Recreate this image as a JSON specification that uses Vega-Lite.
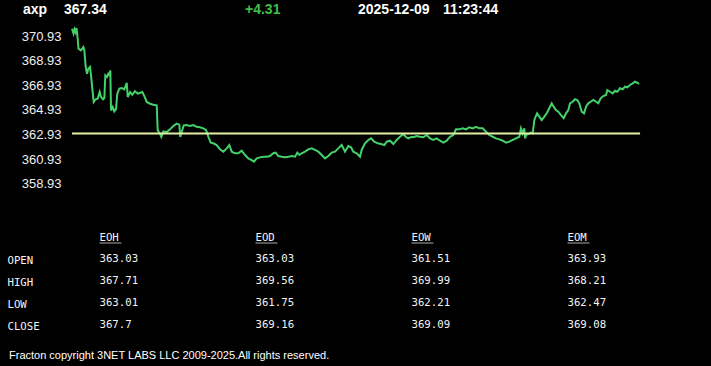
{
  "$schema": "https://vega.github.io/schema/vega-lite/v6.json",
  "width": 711,
  "height": 366,
  "padding": 0,
  "autosize": "none",
  "background": "#000000",
  "config": {"view": {"stroke": null}, "font": "Liberation Sans"},
  "datasets": {
    "price": [
      {"m":0,"v":371.52},{"m":0.3,"v":371.12},{"m":0.5,"v":371.47},{"m":0.7,"v":371.25},{"m":0.9,"v":371.58},{"m":1.1,"v":370.85},{"m":1.3,"v":369.9},{"m":1.8,"v":369.77},{"m":2.27,"v":370.04},{"m":2.47,"v":369.77},
      {"m":2.75,"v":368.42},{"m":3.01,"v":367.87},{"m":3.27,"v":368.28},{"m":3.61,"v":368.42},{"m":3.81,"v":367.74},{"m":4.07,"v":366.66},{"m":4.35,"v":365.58},{"m":4.75,"v":365.8},{"m":5.15,"v":365.85},{"m":5.55,"v":366.39},
      {"m":5.81,"v":365.98},{"m":6.22,"v":365.8},{"m":6.48,"v":365.9},{"m":6.68,"v":367.74},{"m":7.02,"v":367.61},{"m":7.28,"v":367.87},{"m":7.56,"v":367.74},{"m":7.68,"v":368.15},{"m":7.82,"v":364.9},{"m":8.16,"v":365.17},
      {"m":8.48,"v":364.82},{"m":8.82,"v":365.0},{"m":9.08,"v":366.25},{"m":9.48,"v":366.66},{"m":9.96,"v":366.71},{"m":10.49,"v":366.61},{"m":10.97,"v":367.14},{"m":11.17,"v":365.98},{"m":11.63,"v":366.39},{"m":12.09,"v":366.17},
      {"m":12.63,"v":366.45},{"m":13.17,"v":366.25},{"m":13.69,"v":366.33},{"m":14.1,"v":366.39},{"m":14.5,"v":366.06},{"m":14.98,"v":365.58},{"m":15.64,"v":365.44},{"m":16.3,"v":365.36},{"m":16.98,"v":365.31},{"m":17.18,"v":363.28},
      {"m":17.64,"v":363.01},{"m":17.9,"v":362.74},{"m":18.31,"v":363.2},{"m":18.99,"v":363.14},{"m":19.65,"v":363.36},{"m":20.31,"v":363.63},{"m":20.99,"v":363.82},{"m":21.51,"v":363.74},{"m":21.71,"v":362.74},{"m":21.99,"v":363.14},
      {"m":22.4,"v":363.68},{"m":23.0,"v":363.71},{"m":23.66,"v":363.63},{"m":24.32,"v":363.71},{"m":25.0,"v":363.57},{"m":25.66,"v":363.53},{"m":26.33,"v":363.44},{"m":26.87,"v":363.31},{"m":27.33,"v":362.76},{"m":27.81,"v":362.28},
      {"m":28.33,"v":362.23},{"m":29.01,"v":362.09},{"m":29.67,"v":361.74},{"m":30.34,"v":361.55},{"m":31.02,"v":361.82},{"m":31.54,"v":362.09},{"m":32.02,"v":361.55},{"m":32.68,"v":361.42},{"m":33.34,"v":361.42},{"m":34.02,"v":361.63},
      {"m":34.69,"v":361.28},{"m":35.35,"v":361.01},{"m":36.03,"v":360.87},{"m":36.49,"v":360.74},{"m":37.03,"v":361.01},{"m":37.69,"v":361.09},{"m":38.36,"v":361.14},{"m":39.04,"v":361.14},{"m":39.7,"v":361.2},{"m":40.36,"v":361.42},
      {"m":40.84,"v":361.47},{"m":41.36,"v":361.2},{"m":42.04,"v":361.14},{"m":42.71,"v":361.09},{"m":43.37,"v":361.14},{"m":44.05,"v":361.2},{"m":44.71,"v":361.14},{"m":45.17,"v":361.47},{"m":45.57,"v":361.28},{"m":46.05,"v":361.42},
      {"m":46.72,"v":361.55},{"m":47.38,"v":361.74},{"m":48.06,"v":361.82},{"m":48.72,"v":361.69},{"m":49.38,"v":361.55},{"m":50.06,"v":361.28},{"m":50.73,"v":361.01},{"m":51.39,"v":361.2},{"m":52.07,"v":361.47},{"m":52.73,"v":361.55},
      {"m":53.39,"v":361.82},{"m":54.07,"v":362.09},{"m":54.74,"v":361.55},{"m":55.4,"v":362.01},{"m":55.94,"v":361.9},{"m":56.4,"v":361.55},{"m":57.08,"v":361.42},{"m":57.74,"v":361.14},{"m":58.08,"v":361.69},{"m":58.75,"v":362.23},
      {"m":59.41,"v":362.5},{"m":59.95,"v":362.63},{"m":60.61,"v":362.36},{"m":61.29,"v":362.23},{"m":61.95,"v":362.17},{"m":62.62,"v":362.09},{"m":63.1,"v":362.36},{"m":63.76,"v":362.44},{"m":64.42,"v":362.17},{"m":65.1,"v":362.5},
      {"m":65.76,"v":362.76},{"m":66.43,"v":362.98},{"m":66.91,"v":362.76},{"m":67.43,"v":362.63},{"m":68.11,"v":362.76},{"m":68.43,"v":362.72},{"m":69.11,"v":362.82},{"m":69.77,"v":362.76},{"m":70.44,"v":362.72},{"m":71.12,"v":362.9},
      {"m":71.78,"v":362.63},{"m":72.44,"v":362.5},{"m":73.12,"v":362.63},{"m":73.78,"v":362.44},{"m":74.45,"v":362.28},{"m":75.12,"v":362.44},{"m":75.79,"v":362.76},{"m":76.45,"v":362.9},{"m":76.99,"v":363.36},{"m":77.65,"v":363.36},
      {"m":78.33,"v":363.44},{"m":79.0,"v":363.36},{"m":79.66,"v":363.53},{"m":80.34,"v":363.44},{"m":81.0,"v":363.57},{"m":81.66,"v":363.44},{"m":82.34,"v":363.44},{"m":83.01,"v":363.17},{"m":83.67,"v":362.9},{"m":84.35,"v":362.76},
      {"m":85.01,"v":362.63},{"m":85.67,"v":362.55},{"m":86.36,"v":362.44},{"m":87.02,"v":362.28},{"m":87.68,"v":362.36},{"m":88.36,"v":362.5},{"m":89.02,"v":362.63},{"m":89.69,"v":362.76},{"m":90.02,"v":363.44},{"m":90.36,"v":363.04},
      {"m":90.69,"v":363.44},{"m":90.86,"v":362.62},{"m":91.03,"v":362.9},{"m":91.43,"v":362.98},{"m":92.03,"v":363.09},{"m":92.37,"v":363.04},{"m":92.7,"v":364.12},{"m":93.24,"v":364.66},{"m":93.7,"v":364.39},{"m":94.18,"v":364.12},
      {"m":94.7,"v":364.39},{"m":95.24,"v":364.71},{"m":95.7,"v":365.07},{"m":96.18,"v":365.47},{"m":96.58,"v":365.2},{"m":97.04,"v":364.93},{"m":97.5,"v":364.79},{"m":98.04,"v":364.52},{"m":98.59,"v":364.26},{"m":99.05,"v":364.66},
      {"m":99.51,"v":364.93},{"m":99.85,"v":365.47},{"m":100.39,"v":365.6},{"m":100.85,"v":365.8},{"m":101.31,"v":365.74},{"m":101.71,"v":365.47},{"m":102.19,"v":364.79},{"m":102.66,"v":364.66},{"m":103.06,"v":365.2},{"m":103.52,"v":365.47},
      {"m":104.0,"v":365.6},{"m":104.52,"v":365.74},{"m":105.06,"v":365.6},{"m":105.52,"v":365.47},{"m":106.0,"v":365.88},{"m":106.53,"v":366.06},{"m":107.07,"v":366.15},{"m":107.33,"v":366.55},{"m":107.87,"v":366.41},{"m":108.41,"v":366.28},
      {"m":108.87,"v":366.49},{"m":109.33,"v":366.41},{"m":109.87,"v":366.69},{"m":110.41,"v":366.61},{"m":110.88,"v":366.82},{"m":111.34,"v":366.77},{"m":111.88,"v":366.96},{"m":112.42,"v":367.09},{"m":112.88,"v":367.22},{"m":113.34,"v":367.14},
      {"m":113.7,"v":367.04}
    ],
    "ref": [{"label": "previous close", "v": 363.03, "start": 0, "end": 113.9}],
    "cols": [{"col": "EOH"}, {"col": "EOD"}, {"col": "EOW"}, {"col": "EOM"}],
    "cells": [
      {"row": "OPEN", "col": "EOH", "value": 363.03}, {"row": "HIGH", "col": "EOH", "value": 367.71}, {"row": "LOW", "col": "EOH", "value": 363.01}, {"row": "CLOSE", "col": "EOH", "value": 367.7},
      {"row": "OPEN", "col": "EOD", "value": 363.03}, {"row": "HIGH", "col": "EOD", "value": 369.56}, {"row": "LOW", "col": "EOD", "value": 361.75}, {"row": "CLOSE", "col": "EOD", "value": 369.16},
      {"row": "OPEN", "col": "EOW", "value": 361.51}, {"row": "HIGH", "col": "EOW", "value": 369.99}, {"row": "LOW", "col": "EOW", "value": 362.21}, {"row": "CLOSE", "col": "EOW", "value": 369.09},
      {"row": "OPEN", "col": "EOM", "value": 363.93}, {"row": "HIGH", "col": "EOM", "value": 368.21}, {"row": "LOW", "col": "EOM", "value": 362.47}, {"row": "CLOSE", "col": "EOM", "value": 369.08}
    ]
  },
  "layer": [
    {
      "layer": [
        {
          "data": {"name": "price"},
          "mark": {"type": "line", "color": "#44d16a", "strokeWidth": 2},
          "encoding": {
            "x": {"field": "m", "type": "quantitative", "scale": {"domain": [-14.44, 128.12], "nice": false, "zero": false}, "axis": null},
            "y": {"field": "v", "type": "quantitative", "title": null,
              "scale": {"domain": [344.17, 373.85], "nice": false, "zero": false},
              "axis": {"values": [358.93, 360.93, 362.93, 364.93, 366.93, 368.93, 370.93], "format": ".2f", "orient": "left", "offset": -61, "labelPadding": 0, "ticks": false, "tickSize": 0, "domain": false, "grid": false, "title": null, "labelColor": "#eeeeee", "labelFont": "Liberation Sans", "labelFontSize": 13}}
          }
        },
        {
          "data": {"name": "ref"},
          "mark": {"type": "rule", "color": "#e2f0a4", "strokeWidth": 2},
          "encoding": {
            "x": {"field": "start", "type": "quantitative"},
            "x2": {"field": "end"},
            "y": {"field": "v", "type": "quantitative", "title": null}
          }
        }
      ]
    },
    {
      "layer": [
        {
          "data": {"name": "cells"},
          "mark": {"type": "text", "align": "left", "baseline": "alphabetic", "font": "DejaVu Sans Mono", "fontSize": 10.7, "color": "#f4f4f4"},
          "encoding": {
            "x": {"field": "col", "type": "nominal", "scale": {"type": "point", "domain": ["EOH", "EOD", "EOW", "EOM"], "range": [99.5, 567.5], "padding": 0}, "axis": null},
            "y": {"field": "row", "type": "nominal", "scale": {"type": "point", "domain": ["head", "OPEN", "HIGH", "LOW", "CLOSE"], "range": [240.5, 328.3], "padding": 0},
              "axis": {"values": ["OPEN", "HIGH", "LOW", "CLOSE"], "orient": "left", "offset": -7, "labelAlign": "left", "labelBaseline": "alphabetic", "labelOffset": 1.5, "labelPadding": 0, "ticks": false, "tickSize": 0, "domain": false, "grid": false, "title": null, "labelColor": "#f4f4f4", "labelFont": "DejaVu Sans Mono", "labelFontSize": 10.7}},
            "text": {"field": "value", "type": "nominal"}
          }
        },
        {
          "data": {"name": "cols"},
          "mark": {"type": "text", "align": "left", "baseline": "alphabetic", "font": "DejaVu Sans Mono", "fontSize": 10.7, "color": "#f4f4f4"},
          "encoding": {
            "x": {"field": "col", "type": "nominal"},
            "y": {"datum": "head", "type": "nominal"},
            "text": {"field": "col", "type": "nominal"}
          }
        },
        {
          "data": {"name": "cols"},
          "mark": {"type": "tick", "orient": "horizontal", "size": 22, "thickness": 1, "xOffset": 11, "yOffset": 2.5, "color": "#f4f4f4"},
          "encoding": {
            "x": {"field": "col", "type": "nominal"},
            "y": {"datum": "head", "type": "nominal"}
          }
        }
      ]
    },
    {
      "data": {"values": [{"item": "symbol", "text": "axp"}]},
      "mark": {"type": "text", "align": "left", "baseline": "alphabetic", "font": "Liberation Sans", "fontWeight": "bold", "fontSize": 14, "color": "#ffffff"},
      "encoding": {"x": {"value": 23}, "y": {"value": 14}, "text": {"field": "text"}}
    },
    {
      "data": {"values": [{"item": "last", "text": "367.34"}]},
      "mark": {"type": "text", "align": "left", "baseline": "alphabetic", "font": "Liberation Sans", "fontWeight": "bold", "fontSize": 14, "color": "#ffffff"},
      "encoding": {"x": {"value": 64}, "y": {"value": 14}, "text": {"field": "text"}}
    },
    {
      "data": {"values": [{"item": "change", "text": "+4.31"}]},
      "mark": {"type": "text", "align": "left", "baseline": "alphabetic", "font": "Liberation Sans", "fontWeight": "bold", "fontSize": 14, "color": "#3fbf4a"},
      "encoding": {"x": {"value": 245}, "y": {"value": 14}, "text": {"field": "text"}}
    },
    {
      "data": {"values": [{"item": "date", "text": "2025-12-09"}]},
      "mark": {"type": "text", "align": "left", "baseline": "alphabetic", "font": "Liberation Sans", "fontWeight": "bold", "fontSize": 14, "color": "#ffffff"},
      "encoding": {"x": {"value": 358}, "y": {"value": 14}, "text": {"field": "text"}}
    },
    {
      "data": {"values": [{"item": "time", "text": "11:23:44"}]},
      "mark": {"type": "text", "align": "left", "baseline": "alphabetic", "font": "Liberation Sans", "fontWeight": "bold", "fontSize": 14, "color": "#ffffff"},
      "encoding": {"x": {"value": 443}, "y": {"value": 14}, "text": {"field": "text"}}
    },
    {
      "data": {"values": [{"text": "Fracton copyright 3NET LABS LLC 2009-2025.All rights reserved."}]},
      "mark": {"type": "text", "align": "left", "baseline": "alphabetic", "font": "Liberation Sans", "fontSize": 11, "color": "#ffffff"},
      "encoding": {"x": {"value": 9}, "y": {"value": 359}, "text": {"field": "text"}}
    }
  ],
  "resolve": {"scale": {"x": "independent", "y": "independent"}}
}
